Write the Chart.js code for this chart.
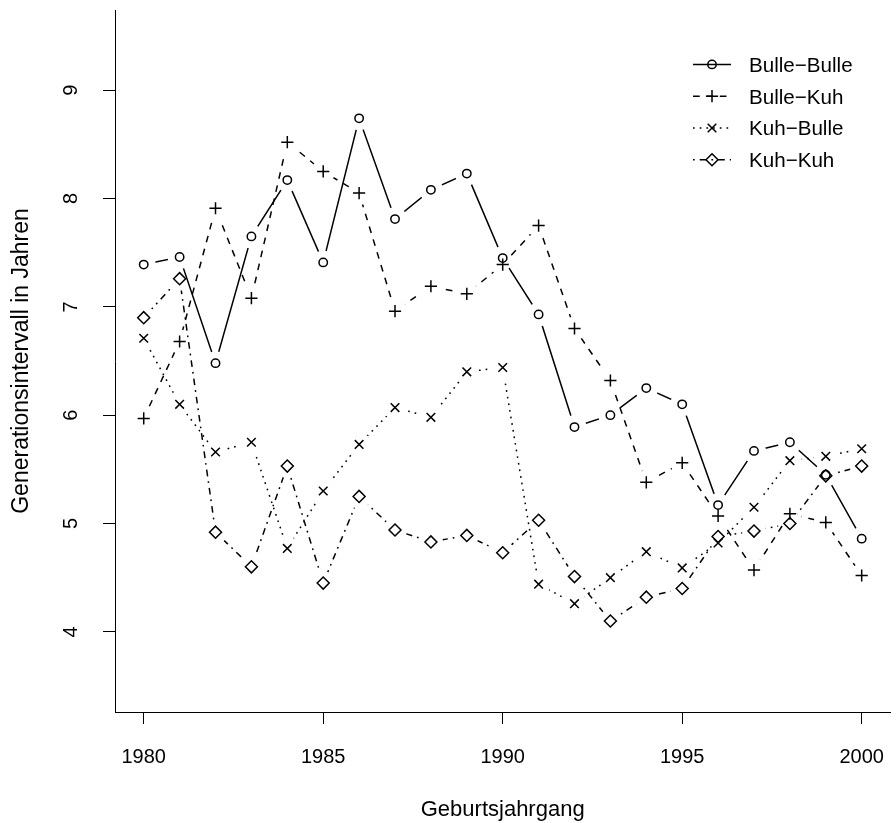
<!DOCTYPE html>
<html>
<head>
<meta charset="utf-8">
<title>Generationsintervall</title>
<script src="https://cdn.jsdelivr.net/npm/chart.js"></script>
<style>
  html, body { margin: 0; padding: 0; background: #fff; overflow: hidden; }
  canvas { display: block; }
</style>
</head>
<body>
<canvas id="c" width="898" height="823"></canvas>
<script>
// ---- data ----
const years = [1980,1981,1982,1983,1984,1985,1986,1987,1988,1989,1990,1991,1992,1993,1994,1995,1996,1997,1998,1999,2000];
const seriesNames = ['Bulle\u2212Bulle', 'Bulle\u2212Kuh', 'Kuh\u2212Bulle', 'Kuh\u2212Kuh'];
const bulleBulle = [7.39,7.46,6.48,7.65,8.17,7.41,8.74,7.81,8.08,8.23,7.45,6.93,5.89,6.00,6.25,6.10,5.17,5.67,5.75,5.45,4.86];
const bulleKuh   = [5.97,6.68,7.91,7.08,8.52,8.25,8.05,6.96,7.19,7.12,7.39,7.75,6.80,6.32,5.38,5.56,5.07,4.57,5.09,5.01,4.52];
const kuhBulle   = [6.71,6.10,5.66,5.75,4.77,5.30,5.73,6.07,5.98,6.40,6.44,4.44,4.26,4.50,4.74,4.59,4.82,5.15,5.58,5.62,5.69];
const kuhKuh     = [6.90,7.26,4.92,4.60,5.53,4.45,5.25,4.94,4.83,4.89,4.73,5.03,4.51,4.10,4.32,4.40,4.88,4.93,5.00,5.44,5.53];
const xTicks = [1980,1985,1990,1995,2000];
const yTicks = [4,5,6,7,8,9];
const xLabel = 'Geburtsjahrgang';
const yLabel = 'Generationsintervall in Jahren';

// ---- styles ----
const FONT = '"Liberation Sans", Arial, Helvetica, sans-serif';
Chart.defaults.font.family = FONT;
Chart.defaults.color = '#000';
const allSeries = [bulleBulle, bulleKuh, kuhBulle, kuhKuh];
const styles = [
  { dash: [],              pointStyle: 'circle',   radius: 4.2 },
  { dash: [6.7, 6.7],      pointStyle: 'cross',    radius: 6.1 },
  { dash: [1.7, 5],        pointStyle: 'crossRot', radius: 6.1 },
  { dash: [1.7, 5, 6.7, 5],pointStyle: 'rectRot',  radius: 6.0 }
];
const LW = 1.5;
const GAP = 12;

const toXY = arr => years.map((x, i) => ({ x: x, y: arr[i] }));

const datasets = [];
// points first (drawn on top)
allSeries.forEach((arr, i) => {
  datasets.push({
    label: seriesNames[i],
    data: toXY(arr),
    showLine: false,
    pointStyle: styles[i].pointStyle,
    pointRadius: styles[i].radius,
    pointHoverRadius: styles[i].radius,
    pointBorderWidth: LW,
    pointBorderColor: '#000',
    pointBackgroundColor: 'rgba(0,0,0,0)',
    isPoints: true
  });
});
allSeries.forEach((arr, i) => {
  datasets.push({
    label: seriesNames[i] + ' line',
    data: toXY(arr),
    showLine: true,
    borderColor: '#000',
    borderWidth: LW,
    borderDash: styles[i].dash,
    pointRadius: 0,
    pointHoverRadius: 0,
    tension: 0,
    fill: false,
    isGapLine: true
  });
});

// clip lines around their own points (R type = "b")
const gapPlugin = {
  id: 'gapPlugin',
  beforeDatasetDraw(chart, args) {
    const ds = chart.data.datasets[args.index];
    if (!ds.isGapLine) return;
    const ctx = chart.ctx;
    ctx.save();
    ctx.beginPath();
    ctx.rect(0, 0, chart.width, chart.height);
    args.meta.data.forEach(p => {
      ctx.moveTo(p.x + GAP, p.y);
      ctx.arc(p.x, p.y, GAP, 0, Math.PI * 2);
    });
    ctx.clip('evenodd');
  },
  afterDatasetDraw(chart, args) {
    const ds = chart.data.datasets[args.index];
    if (!ds.isGapLine) return;
    chart.ctx.restore();
  }
};

function drawSymbol(ctx, style, radius, x, y) {
  if (Chart.helpers && Chart.helpers.drawPoint) {
    Chart.helpers.drawPoint(ctx, { pointStyle: style, radius: radius, rotation: 0, borderWidth: LW }, x, y);
    return;
  }
  ctx.beginPath();
  ctx.arc(x, y, radius, 0, Math.PI * 2);
  ctx.stroke();
}

// R-style legend
const rLegend = {
  id: 'rLegend',
  afterDraw(chart) {
    const ctx = chart.ctx;
    const x1 = 693, x2 = 731, xs = 712, xt = 749, y0 = 64.4, step = 31.8;
    ctx.save();
    seriesNames.forEach((name, i) => {
      const y = y0 + i * step;
      ctx.strokeStyle = '#000';
      ctx.lineWidth = LW;
      ctx.setLineDash(styles[i].dash);
      ctx.beginPath();
      ctx.moveTo(x1, y);
      ctx.lineTo(x2, y);
      ctx.stroke();
      ctx.setLineDash([]);
      ctx.fillStyle = 'rgba(0,0,0,0)';
      drawSymbol(ctx, styles[i].pointStyle, styles[i].radius, xs, y);
      ctx.fillStyle = '#000';
      ctx.font = '20.6px ' + FONT;
      ctx.textAlign = 'left';
      ctx.textBaseline = 'alphabetic';
      ctx.fillText(name, xt, y + 7.4);
    });
    ctx.restore();
  }
};

new Chart(document.getElementById('c'), {
  type: 'line',
  data: { datasets: datasets },
  options: {
    responsive: false,
    devicePixelRatio: 1,
    animation: false,
    events: [],
    layout: { padding: { top: 10, right: 0, bottom: 0, left: 0 } },
    plugins: { legend: { display: false }, tooltip: { enabled: false } },
    scales: {
      x: {
        type: 'linear',
        min: 1979.2,
        max: 2000.8,
        afterBuildTicks: s => { s.ticks = xTicks.map(v => ({ value: v })); },
        afterFit: s => { s.height = 111; s.paddingLeft = 0; s.paddingRight = 0; },
        grid: { display: true, drawOnChartArea: false, drawTicks: true, tickLength: 12, color: '#000', lineWidth: 1 },
        border: { display: true, color: '#000', width: 1 },
        ticks: {
          autoSkip: false, maxRotation: 0, minRotation: 0, padding: 21,
          font: { size: 20, family: FONT }, color: '#000',
          callback: v => String(v)
        },
        title: { display: true, text: xLabel, font: { size: 22, family: FONT }, color: '#000', padding: { top: 0, bottom: 0 } }
      },
      y: {
        type: 'linear',
        min: 3.26,
        max: 9.74,
        afterBuildTicks: s => { s.ticks = yTicks.map(v => ({ value: v })); },
        afterFit: s => { s.width = 115; s.paddingTop = 0; s.paddingBottom = 0; },
        grid: { display: true, drawOnChartArea: false, drawTicks: true, tickLength: 12, color: '#000', lineWidth: 1 },
        border: { display: true, color: '#000', width: 1 },
        ticks: {
          autoSkip: false, minRotation: 90, maxRotation: 90, crossAlign: 'center', padding: 26,
          font: { size: 20, family: FONT }, color: '#000',
          callback: v => String(v)
        },
        title: { display: true, text: yLabel, font: { size: 23, family: FONT }, color: '#000', padding: { top: 8, bottom: 0 } }
      }
    }
  },
  plugins: [gapPlugin, rLegend]
});
</script>
</body>
</html>
